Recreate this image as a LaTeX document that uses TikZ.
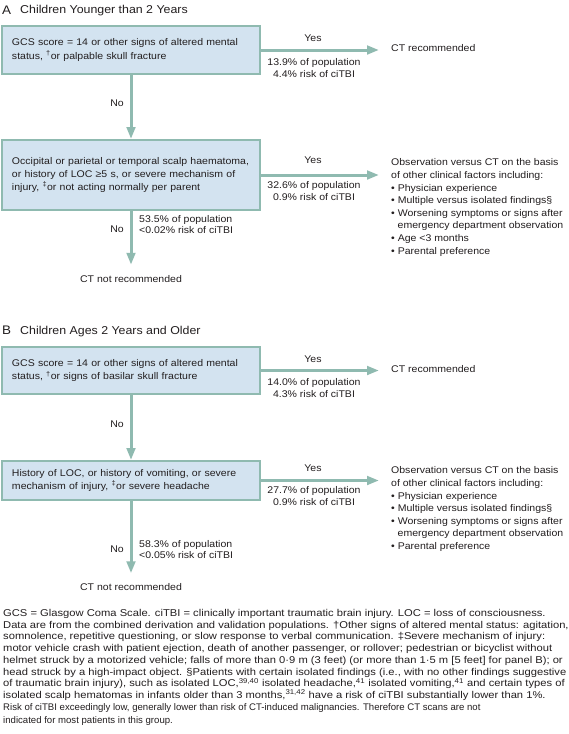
\documentclass[tikz,border=0pt]{standalone}
\usepackage{fontspec}
\usepackage{graphicx}
\setmainfont[FakeStretch=1.085]{Liberation Sans}
\newfontfamily\footfont[FakeStretch=1.13]{Liberation Sans}
\newfontfamily\plainfont{Liberation Sans}
\usetikzlibrary{arrows.meta}
\definecolor{tealline}{HTML}{8FBAB0}
\definecolor{boxfill}{HTML}{D3E3F0}
\definecolor{txt}{HTML}{231F20}
\begin{document}
\begin{tikzpicture}[x=1pt,y=-1pt,
  every node/.style={text=txt, inner sep=0pt},
  mainfont/.style={font=\fontsize{9.7}{13.3}\selectfont},
  decision/.style={mainfont, draw=tealline, line width=2pt, fill=boxfill,
    minimum width=258pt, text width=238pt, align=left, inner xsep=10pt,
    inner ysep=0pt, anchor=north west},
  flow/.style={draw=tealline, line width=3pt, -{Triangle[length=12pt,width=8.5pt]}},
  lbl/.style={mainfont, anchor=base},
  stats/.style={font=\fontsize{9.7}{11.6}\selectfont, align=center, anchor=base},
  lstats/.style={font=\fontsize{9.7}{11.2}\selectfont, align=left, anchor=base west},
  outcome/.style={mainfont, anchor=base west},
  obs/.style={font=\fontsize{9.7}{12.6}\selectfont, align=left, anchor=base west},
  paneltitle/.style={font=\fontsize{11.4}{14}\selectfont, anchor=base west},
  panelletter/.style={font=\fontsize{12.4}{14}\selectfont, anchor=base west},
  foot/.style={font=\footfont\fontsize{9.9}{11.7}\selectfont, align=left, anchor=base west}
]
\useasboundingbox (0,0) rectangle (568,734);
\fill[white] (0,0) rectangle (568,734);

% ---------------- Panel A ----------------
\node[panelletter] (letA) at (2,14) {A};
\node[paneltitle] (titleA) at (20,13.5) {Children Younger than 2 Years};

\node[decision, minimum height=48pt] (boxA1) at (1,25)
  {GCS score = 14 or other signs of altered mental\\status, \textsuperscript{†}or palpable skull fracture};
\node[outcome] (ctA) at (391,51.5) {CT recommended};
\node[lbl] (yesA1) at (313,41.5) {Yes};
\node[stats] (stA1) at (314,77) {13.9\% of population\\4.4\% risk of ciTBI};
\draw[flow, shorten >=12pt] (boxA1.east) -- (boxA1.east -| ctA.west);

\node[decision, minimum height=70pt, font=\fontsize{9.7}{13}\selectfont] (boxA2) at (1,139)
  {\mbox{Occipital or parietal or temporal scalp haematoma,}\\\mbox{or history of LOC ≥5 s, or severe mechanism of}\\\mbox{injury, \textsuperscript{‡}or not acting normally per parent}};
\node[lbl, anchor=base east] (noA1) at (124,106.5) {No};
\draw[flow] (boxA1.south) -- (boxA2.north);

\node[obs] (obsA) at (391,254) {Observation versus CT on the basis\\of other clinical factors including:\\• Physician experience\\• Multiple versus isolated findings§\\• Worsening symptoms or signs after\\\hspace*{6.5pt}emergency department observation\\• Age <3 months\\• Parental preference};
\node[lbl] (yesA2) at (313,163.5) {Yes};
\node[stats] (stA2) at (314,200) {32.6\% of population\\0.9\% risk of ciTBI};
\draw[flow, shorten >=12pt] (boxA2.east) -- (boxA2.east -| obsA.west);

\node[lbl, anchor=base] (ctnA) at (131,282) {CT not recommended};
\node[lbl, anchor=base east] (noA2) at (124,232.5) {No};
\node[lstats] (stA3) at (139,233.5) {53.5\% of population\\<0.02\% risk of ciTBI};
\draw[flow, shorten >=10pt] (boxA2.south) -- (ctnA.north);

% ---------------- Panel B ----------------
\node[panelletter] (letB) at (2,334.5) {B};
\node[paneltitle] (titleB) at (20,334) {Children Ages 2 Years and Older};

\node[decision, minimum height=47pt] (boxB1) at (1,346)
  {GCS score = 14 or other signs of altered mental\\status, \textsuperscript{†}or signs of basilar skull fracture};
\node[outcome] (ctB) at (391,372.5) {CT recommended};
\node[lbl] (yesB1) at (313,362) {Yes};
\node[stats] (stB1) at (314,397.5) {14.0\% of population\\4.3\% risk of ciTBI};
\draw[flow, shorten >=12pt] (boxB1.east) -- (boxB1.east -| ctB.west);

\node[decision, minimum height=39pt, font=\fontsize{9.7}{13}\selectfont] (boxB2) at (1,460)
  {History of LOC, or history of vomiting, or severe\\mechanism of injury, \textsuperscript{‡}or severe headache};
\node[lbl, anchor=base east] (noB1) at (124,427) {No};
\draw[flow] (boxB1.south) -- (boxB2.north);

\node[obs] (obsB) at (391,549.5) {Observation versus CT on the basis\\of other clinical factors including:\\• Physician experience\\• Multiple versus isolated findings§\\• Worsening symptoms or signs after\\\hspace*{6.5pt}emergency department observation\\• Parental preference};
\node[lbl] (yesB2) at (313,471) {Yes};
\node[stats] (stB2) at (314,505.2) {27.7\% of population\\0.9\% risk of ciTBI};
\draw[flow, shorten >=12pt] (boxB2.east) -- (boxB2.east -| obsB.west);

\node[lbl, anchor=base] (ctnB) at (131,590.5) {CT not recommended};
\node[lbl, anchor=base east] (noB2) at (124,552) {No};
\node[lstats] (stB3) at (139,558.5) {58.3\% of population\\<0.05\% risk of ciTBI};
\draw[flow, shorten >=10pt] (boxB2.south) -- (ctnB.north);

% ---------------- Footnote ----------------
\node[foot] (note) at (3,723.5) {GCS = Glasgow Coma Scale. ciTBI = clinically important traumatic brain injury. LOC = loss of consciousness.\\
Data are from the combined derivation and validation populations. †Other signs of altered mental status: agitation,\\
somnolence, repetitive questioning, or slow response to verbal communication. ‡Severe mechanism of injury:\\
motor vehicle crash with patient ejection, death of another passenger, or rollover; pedestrian or bicyclist without\\
helmet struck by a motorized vehicle; falls of more than 0·9 m (3 feet) (or more than 1·5 m [5 feet] for panel B); or\\
head struck by a high-impact object. §Patients with certain isolated findings (i.e., with no other findings suggestive\\
of traumatic brain injury), such as isolated LOC,\textsuperscript{39,40} isolated headache,\textsuperscript{41} isolated vomiting,\textsuperscript{41} and certain types of\\
isolated scalp hematomas in infants older than 3 months,\textsuperscript{31,42} have a risk of ciTBI substantially lower than 1\%.\\
{\plainfont\fontsize{9.6}{11.7}\selectfont Risk of ciTBI exceedingly low, generally lower than risk of CT-induced malignancies. Therefore CT scans are not}\\[1.7pt]
{\plainfont\fontsize{9.6}{11.7}\selectfont indicated for most patients in this group.}};
\end{tikzpicture}
\end{document}
